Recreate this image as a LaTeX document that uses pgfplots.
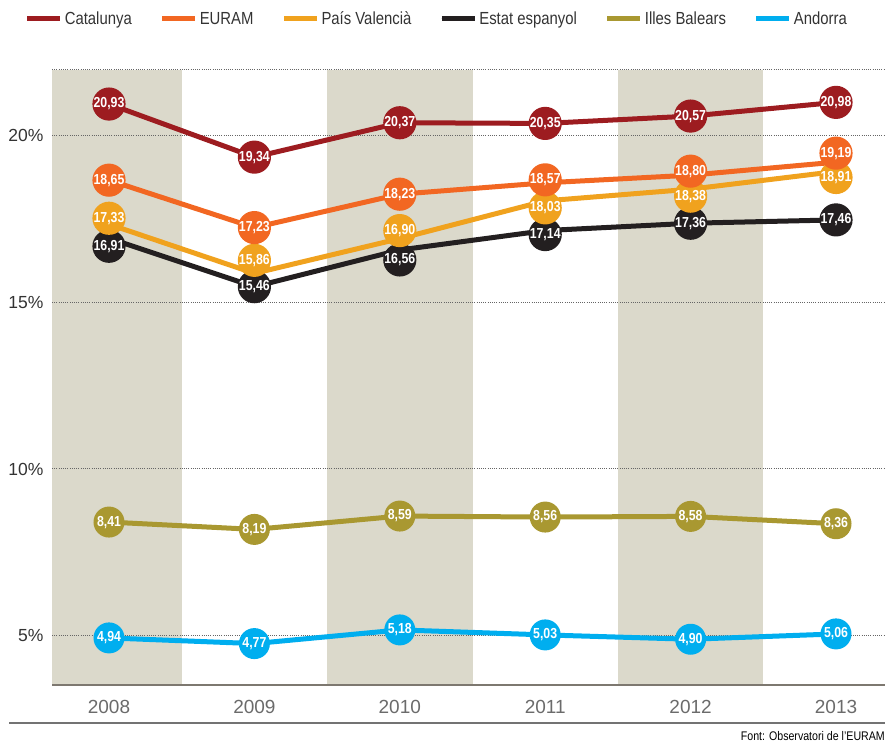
\documentclass[border=0pt]{standalone}
\usepackage{fontspec}
\setmainfont{Liberation Sans}
\newfontfamily\cond[FakeStretch=0.85]{Liberation Sans}
\usepackage{pgfplots}
\usepackage{pgfplotstable}
\pgfplotsset{compat=1.18}
\definecolor{ccat}{HTML}{9D1C20}
\definecolor{ceur}{HTML}{F26722}
\definecolor{cpv}{HTML}{F0A21E}
\definecolor{cesp}{HTML}{231F20}
\definecolor{cib}{HTML}{A99831}
\definecolor{cand}{HTML}{00AEEF}
\definecolor{cband}{HTML}{DBD9CB}
\definecolor{ctxt}{HTML}{333333}
\definecolor{caxis}{HTML}{7D7870}
% values, and vertical offsets (px) of the value bubbles as in the reference
\pgfplotstableread{
year cat euram pv esp ib and dcat deuram dpv desp dib dand
2008 20.93 18.65 17.33 16.91 8.41 4.94 0 0 6 -8 0 0
2009 19.34 17.23 15.86 15.46 8.19 4.77 0 0 13 0 0 0
2010 20.37 18.23 16.90 16.56 8.59 5.18 0 0 8 -10 0 0
2011 20.35 18.57 18.03 17.14 8.56 5.03 0 3 -7 -4 0 0
2012 20.57 18.80 18.38 17.36 8.58 4.90 0 4 -7 0 0 0
2013 20.98 19.19 18.91 17.46 8.36 5.06 0 9 -6 0 0 0
}\data
\pgfplotsset{
  ln/.style={color=#1, line width=5pt, mark=none,
    legend image code/.code={\path (0pt,0pt) -- (33pt,0pt);\draw[#1, line width=5pt, line cap=round] (2.5pt,0pt) -- (28.5pt,0pt);}},
  bub/.style={draw=none, mark=none, forget plot,
    nodes near coords={\pgfmathprintnumber[fixed,fixed zerofill,precision=2,use comma,assume math mode=true]{\pgfplotspointmeta}},
    point meta=explicit,
    every node near coord/.append style={anchor=center, circle, fill=#1, minimum size=31pt, inner sep=0pt,
      text=white, font=\cond\bfseries\fontsize{14.5}{14.5}\selectfont}},
}
\begin{document}
\begin{tikzpicture}
\begin{axis}[
  set layers=standard,
  at={(52pt,59pt)}, anchor=south west, scale only axis,
  width=833pt, height=615pt,
  xmin=2007.608, xmax=2013.337, ymin=3.53, ymax=21.95,
  clip=false,
  axis x line*=bottom, axis y line*=left,
  y axis line style={draw=none},
  x axis line style={-, draw=caxis, line width=2.5pt},
  xtick={2008,2009,2010,2011,2012,2013},
  xticklabels={2008,2009,2010,2011,2012,2013},
  ytick={5,10,15,20,21.95},
  yticklabels={5\%,10\%,15\%,20\%,{}},
  major tick length=0pt,
  ymajorgrids,
  grid style={draw=black!60, line width=1pt, dash pattern=on 1pt off 1.2pt},
  xticklabel style={font=\fontsize{19}{19}\selectfont, text=black!58, yshift=-12pt},
  yticklabel style={font=\fontsize{17.5}{17.5}\selectfont, text=ctxt, xshift=-5pt},
  legend columns=6,
  reverse legend,
  legend style={at={(0.462,1.083)}, anchor=center, draw=none, fill=none,
    font=\cond\fontsize{17.5}{17.5}\selectfont, text=ctxt,
    /tikz/every even column/.append style={column sep=26pt}},
]
\pgfplotsextra{
\begin{pgfonlayer}{axis background}
\fill[cband] (axis cs:2007.608,3.53) rectangle (axis cs:2008.5,21.95);
\fill[cband] (axis cs:2009.5,3.53) rectangle (axis cs:2010.5,21.95);
\fill[cband] (axis cs:2011.5,3.53) rectangle (axis cs:2012.5,21.95);
\end{pgfonlayer}
}
% lines
\addplot[ln=cand] table[x=year,y=and] {\data};
\addlegendentry{Andorra}
\addplot[ln=cib] table[x=year,y=ib] {\data};
\addlegendentry{Illes Balears}
\addplot[ln=cesp] table[x=year,y=esp] {\data};
\addlegendentry{Estat espanyol}
\addplot[ln=cpv] table[x=year,y=pv] {\data};
\addlegendentry{País Valencià}
\addplot[ln=ceur] table[x=year,y=euram] {\data};
\addlegendentry{EURAM}
\addplot[ln=ccat] table[x=year,y=cat] {\data};
\addlegendentry{Catalunya}
% value bubbles (nudged apart like the reference, 33.4 px per unit)
\addplot[bub=cand] table[x=year,y expr=\thisrow{and}+\thisrow{dand}/33.4,meta=and] {\data};
\addplot[bub=cib] table[x=year,y expr=\thisrow{ib}+\thisrow{dib}/33.4,meta=ib] {\data};
\addplot[bub=cesp] table[x=year,y expr=\thisrow{esp}+\thisrow{desp}/33.4,meta=esp] {\data};
\addplot[bub=cpv] table[x=year,y expr=\thisrow{pv}+\thisrow{dpv}/33.4,meta=pv] {\data};
\addplot[bub=ceur] table[x=year,y expr=\thisrow{euram}+\thisrow{deuram}/33.4,meta=euram] {\data};
\addplot[bub=ccat] table[x=year,y expr=\thisrow{cat}+\thisrow{dcat}/33.4,meta=cat] {\data};
\end{axis}
\draw[draw=black!55, line width=1.5pt] (9pt,21pt) -- (885pt,21pt);
\node[anchor=base east, inner sep=0pt, font=\cond\fontsize{12.5}{12.5}\selectfont, text=black] at (885pt,4pt) {Font: Observatori de l’EURAM};
\path (0,0) rectangle (891pt,744pt);
\end{tikzpicture}
\end{document}
